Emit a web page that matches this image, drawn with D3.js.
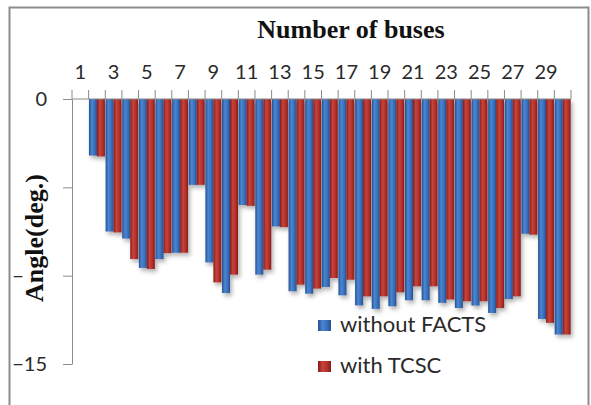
<!DOCTYPE html>
<html>
<head>
<meta charset="utf-8">
<script src="https://cdn.jsdelivr.net/npm/d3@7/dist/d3.min.js"></script>
<style>
  html, body { margin: 0; padding: 0; background: #fff; }
  svg { display: block; }
</style>
</head>
<body>
<div id="chart"></div>
<script>
// Bus voltage angles (degrees) for the 30-bus system
const buses = d3.range(1, 31);
const withoutFACTS = [0, -3.2, -7.5, -7.9, -9.56, -9.06, -8.7, -4.86, -9.25, -10.98,
  -6.0, -9.94, -7.21, -10.88, -11.02, -10.64, -11.11, -11.68, -11.88, -11.73,
  -11.39, -11.39, -11.54, -11.83, -11.69, -12.11, -11.32, -7.63, -12.45, -13.33];
const withTCSC = [0, -3.25, -7.55, -9.06, -9.62, -8.72, -8.7, -4.86, -10.38, -9.94,
  -6.05, -9.66, -7.25, -10.51, -10.73, -10.13, -10.23, -11.17, -11.17, -10.94,
  -10.6, -10.6, -11.35, -11.45, -11.45, -11.83, -11.17, -7.68, -12.67, -13.33];
const yTicks = [0, -5, -10, -15];
const xLabels = buses.filter(b => b % 2 === 1);
const seriesNames = ["without FACTS", "with TCSC"];

const W = 591, H = 405;
const svg = d3.select("#chart").append("svg").attr("width", W).attr("height", H);

const defs = svg.append("defs");
function barGradient(id, edge, mid, light) {
  const g = defs.append("linearGradient").attr("id", id)
    .attr("x1", "0%").attr("x2", "100%").attr("y1", "0%").attr("y2", "0%");
  g.append("stop").attr("offset", "0%").attr("stop-color", edge);
  g.append("stop").attr("offset", "35%").attr("stop-color", light);
  g.append("stop").attr("offset", "70%").attr("stop-color", mid);
  g.append("stop").attr("offset", "100%").attr("stop-color", edge);
}
barGradient("gBlue", "#23508f", "#3a70bd", "#4a86d2");
barGradient("gRed", "#851b18", "#b3302b", "#c8433c");
const shadow = defs.append("filter").attr("id", "shadow")
  .attr("x", "-50%").attr("y", "-10%").attr("width", "200%").attr("height", "130%");
shadow.append("feDropShadow").attr("dx", 2).attr("dy", 3).attr("stdDeviation", 2)
  .attr("flood-color", "#555").attr("flood-opacity", 0.45);

// Outer frame
svg.append("rect").attr("x", 9.5).attr("y", 7.5).attr("width", 579).attr("height", 410)
  .attr("fill", "none").attr("stroke", "#8c8c8c").attr("stroke-width", 2);

const x = d3.scaleBand().domain(buses).range([72, 571]).paddingInner(0.04).paddingOuter(0.02);
const xs = d3.scaleBand().domain(seriesNames).range([0, x.bandwidth()]);
const y = d3.scaleLinear().domain([-15, 0]).range([364, 99]);
const colors = { "without FACTS": "url(#gBlue)", "with TCSC": "url(#gRed)" };

// Bars
const rows = buses.map((b, i) => ({ bus: b, vals: [
  { key: seriesNames[0], v: withoutFACTS[i] },
  { key: seriesNames[1], v: withTCSC[i] }] }));
const groups = svg.append("g").attr("filter", "url(#shadow)")
  .selectAll("g").data(rows).join("g")
  .attr("transform", d => `translate(${x(d.bus)},0)`);
groups.selectAll("rect").data(d => d.vals).join("rect")
  .attr("x", d => xs(d.key))
  .attr("width", xs.bandwidth())
  .attr("y", y(0))
  .attr("height", d => y(d.v) - y(0))
  .attr("fill", d => colors[d.key]);

const axisColor = "#8a8a8a";
const tickFont = "Lato, 'Open Sans', sans-serif";

// Category axis along the zero line, labels on top
const step = x.step();
const x0 = x.range()[0];
const gx = svg.append("g");
gx.append("line").attr("x1", x0).attr("x2", x.range()[1])
  .attr("y1", y(0)).attr("y2", y(0)).attr("stroke", axisColor);
gx.selectAll("line.b").data(d3.range(buses.length + 1)).join("line").attr("class", "b")
  .attr("x1", i => x0 + i * step).attr("x2", i => x0 + i * step)
  .attr("y1", y(0) - 9).attr("y2", y(0)).attr("stroke", axisColor);
const xAxis = d3.axisTop(x).tickValues(xLabels).tickSize(0).tickPadding(20);
const gxl = svg.append("g").attr("transform", `translate(0,${y(0)})`).call(xAxis);
gxl.select(".domain").remove();
gxl.selectAll("text").attr("font-family", tickFont).attr("font-size", 20).attr("fill", "#2a2a2a");

// Value axis
const yAxis = d3.axisLeft(y).tickValues(yTicks).tickSize(9).tickSizeOuter(0).tickPadding(16)
  .tickFormat(d3.format("d"));
const gy = svg.append("g").attr("transform", `translate(${x0},0)`).call(yAxis);
gy.select(".domain").attr("stroke", axisColor);
gy.selectAll(".tick line").attr("stroke", axisColor);
gy.selectAll("text").attr("font-family", tickFont).attr("font-size", 20).attr("fill", "#2a2a2a");

// Titles
svg.append("text").attr("x", 351).attr("y", 38).attr("text-anchor", "middle")
  .attr("font-family", "'Liberation Serif', 'Times New Roman', serif")
  .attr("font-weight", "bold").attr("font-size", 26).attr("fill", "#111")
  .text("Number of buses");
const yl = svg.append("g").attr("transform", "translate(43,238) rotate(-90)");
yl.append("rect").attr("x", -70).attr("y", -20).attr("width", 140).attr("height", 26).attr("fill", "#fff");
yl.append("text").attr("text-anchor", "middle")
  .attr("font-family", "'Liberation Serif', 'Times New Roman', serif")
  .attr("font-weight", "bold").attr("font-size", 26).attr("fill", "#111")
  .text("Angle(deg.)");

// Legend
const legend = svg.append("g").selectAll("g").data(seriesNames).join("g")
  .attr("transform", (d, i) => `translate(318,${320 + i * 41})`);
legend.append("rect").attr("width", 13).attr("height", 11)
  .attr("fill", d => colors[d]);
legend.append("text").attr("x", 22).attr("y", 12)
  .attr("font-family", tickFont).attr("font-size", 22).attr("fill", "#2a2a2a")
  .text(d => d);
</script>
</body>
</html>
